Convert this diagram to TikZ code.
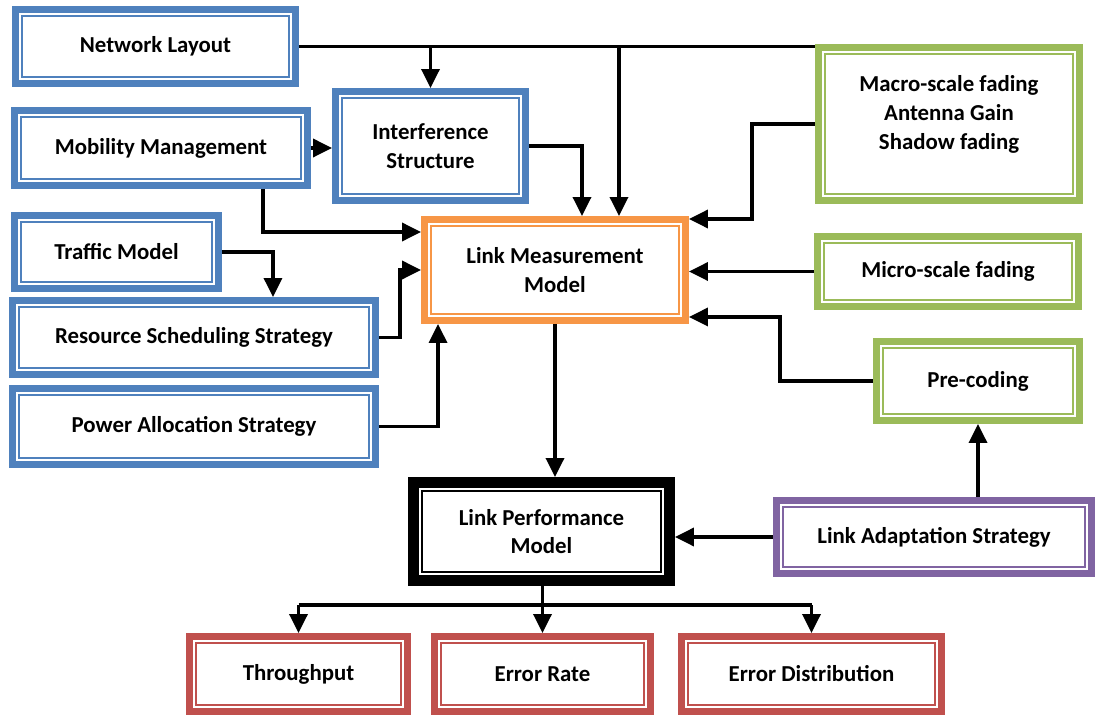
\documentclass[tikz,border=0pt]{standalone}
\usepackage{fontspec}
\setmainfont{Carlito}
\usetikzlibrary{calc,positioning,arrows.meta}

\definecolor{bluebox}{HTML}{4F81BD}
\definecolor{orangebox}{HTML}{F79646}
\definecolor{greenbox}{HTML}{9BBB59}
\definecolor{purplebox}{HTML}{8064A2}
\definecolor{redbox}{HTML}{C0504D}

\tikzset{
  blk/.style={draw=#1, line width=0.14cm, fill=white, inner sep=0pt, align=center,
    font=\bfseries\fontsize{13}{16.4}\selectfont,
    path picture={\draw[#1, line width=0.04cm]
      ([shift={(0.13cm,0.13cm)}]path picture bounding box.south west) rectangle
      ([shift={(-0.13cm,-0.13cm)}]path picture bounding box.north east);}},
  blkb/.style={draw=black, line width=0.22cm, fill=white, inner sep=0pt, align=center,
    font=\bfseries\fontsize{13}{16.4}\selectfont,
    path picture={\draw[black, line width=0.04cm]
      ([shift={(0.17cm,0.17cm)}]path picture bounding box.south west) rectangle
      ([shift={(-0.17cm,-0.17cm)}]path picture bounding box.north east);}},
  ln/.style={line width=0.07cm},
  arr/.style={line width=0.07cm, -{Triangle[length=0.38cm,width=0.36cm]}}
}

\begin{document}
\begin{tikzpicture}[x=0.02cm, y=-0.02cm]
    \useasboundingbox (0,0) rectangle (1096,715);
    % left column
    \node[blk=bluebox, minimum width=5.6cm, minimum height=1.48cm] (net) at (155.5,46.5) {Network Layout};
    \node[blk=bluebox, minimum width=5.86cm, minimum height=1.5cm] (mob) at (161,148) {Mobility Management};
    \node[blk=bluebox, minimum width=4.08cm, minimum height=1.46cm] (trf) at (116.5,252) {Traffic Model};
    \node[blk=bluebox, minimum width=7.26cm, minimum height=1.48cm] (res) at (194,337.5) {Resource Scheduling Strategy};
    \node[blk=bluebox, minimum width=7.26cm, minimum height=1.52cm] (pow) at (194,426.5) {Power Allocation Strategy};
    \node[blk=bluebox, minimum width=3.8cm, minimum height=2.18cm] (intf) at (430.5,146) {Interference\\Structure};
    % centre
    \node[blk=orangebox, minimum width=5.22cm, minimum height=2.02cm] (lmm) at (555,270) {Link Measurement\\Model};
    \node[blkb, minimum width=5.12cm, minimum height=1.96cm] (lpm) at (541.5,531.5) {Link Performance\\Model};
    % right column
    \node[blk=greenbox, minimum width=5.22cm, minimum height=3.06cm] (mac) at (949,124) {Macro-scale fading\\Antenna Gain\\Shadow fading\\[-3pt]\mbox{}};
    \node[blk=greenbox, minimum width=5.22cm, minimum height=1.4cm] (mic) at (948,271.5) {Micro-scale fading};
    \node[blk=greenbox, minimum width=4.06cm, minimum height=1.58cm] (pre) at (978,381) {Pre-coding};
    \node[blk=purplebox, minimum width=6.3cm, minimum height=1.46cm] (lad) at (934,537) {Link Adaptation Strategy};
    % outputs
    \node[blk=redbox, minimum width=4.36cm, minimum height=1.5cm] (thr) at (298.5,674) {Throughput};
    \node[blk=redbox, minimum width=4.32cm, minimum height=1.5cm] (err) at (542.5,674) {Error Rate};
    \node[blk=redbox, minimum width=5.2cm, minimum height=1.5cm] (dis) at (811.5,674) {Error Distribution};

    % connectors
    \draw[ln] (net.east) -- (net.east -| mac.west);
    \draw[arr] (intf.north |- net.east) -- (intf.north);
    \draw[arr] ([xshift=1.28cm]lmm.north |- net.east) -- ([xshift=1.28cm]lmm.north);
    \draw[arr] (mob.east) -- (mob.east -| intf.west);
    \draw[arr] (intf.east) -| ([xshift=0.54cm]lmm.north);
    \draw[arr] ([xshift=2.04cm]mob.south) |- ([yshift=0.76cm]lmm.west);
    \draw[arr] (trf.east) -| ([xshift=1.58cm]res.north);
    \draw[arr] (res.east) -- ++(21,0) |- (lmm.west);
    \draw[arr] (pow.east) -| ([xshift=-2.34cm]lmm.south);
    \draw[arr] (mac.west) -- ++(-63,0) |- ([yshift=1.02cm]lmm.east);
    \draw[arr] (mic.west) -- (mic.west -| lmm.east);
    \draw[arr] (pre.west) -- ++(-93,0) |- ([yshift=-0.94cm]lmm.east);
    \draw[arr] (lmm.south) -- (lmm.south |- lpm.north);
    \draw[arr] (lad.west) -- (lad.west -| lpm.east);
    \draw[arr] (pre.south |- lad.north) -- (pre.south);
    \coordinate (bus) at ($(err.north)+(0,-28)$);
    \draw[ln] (bus |- lpm.south) -- (bus);
    \draw[ln] (bus -| thr.north) -- (bus -| dis.north);
    \draw[arr] (bus) -- (err.north);
    \draw[arr] (bus -| thr.north) -- (thr.north);
    \draw[arr] (bus -| dis.north) -- (dis.north);
\end{tikzpicture}
\end{document}
